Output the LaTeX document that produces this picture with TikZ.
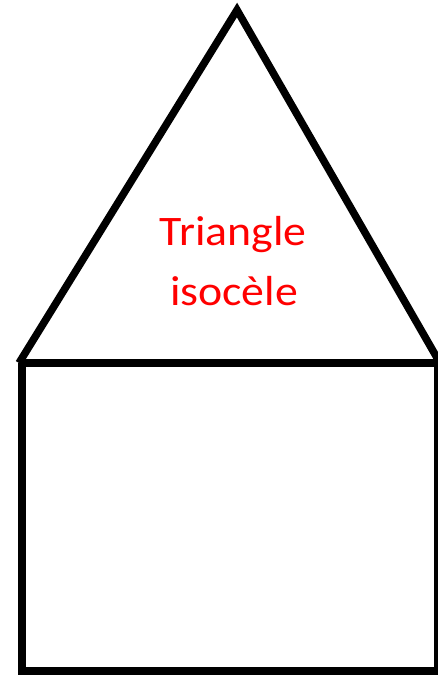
\documentclass[tikz,border=0pt]{standalone}
\usepackage{fontspec}
\setmainfont{Carlito}
\begin{document}
\begin{tikzpicture}[x=1pt,y=-1pt,
  stroke/.style={line width=7.5pt,black},
  lbl/.style={text=red,font=\fontsize{42}{42}\selectfont,inner sep=0pt,anchor=base,xscale=1.09}]
\useasboundingbox (0,0) rectangle (438,676);
\clip (0,0) rectangle (438,676);
\fill[white] (0,0) rectangle (438,676);
\coordinate (apex) at (237,10);
\coordinate (bl) at (19,363);
\coordinate (br) at (440,363);
\coordinate (rtl) at (22,363);
\coordinate (rtr) at (437.5,363);
\coordinate (rbl) at (22,671);
\coordinate (rbr) at (437.5,671);
\draw[stroke,line join=miter] (bl) -- (apex) -- (br);
\draw[stroke] (bl) -- (br);
\draw[stroke] (rtl) -- (rbl) -- (rbr) -- (rtr);
\node[lbl] (t1) at (233,245) {Triangle};
\node[lbl] (t2) at (234,305) {isocèle};
\end{tikzpicture}
\end{document}
